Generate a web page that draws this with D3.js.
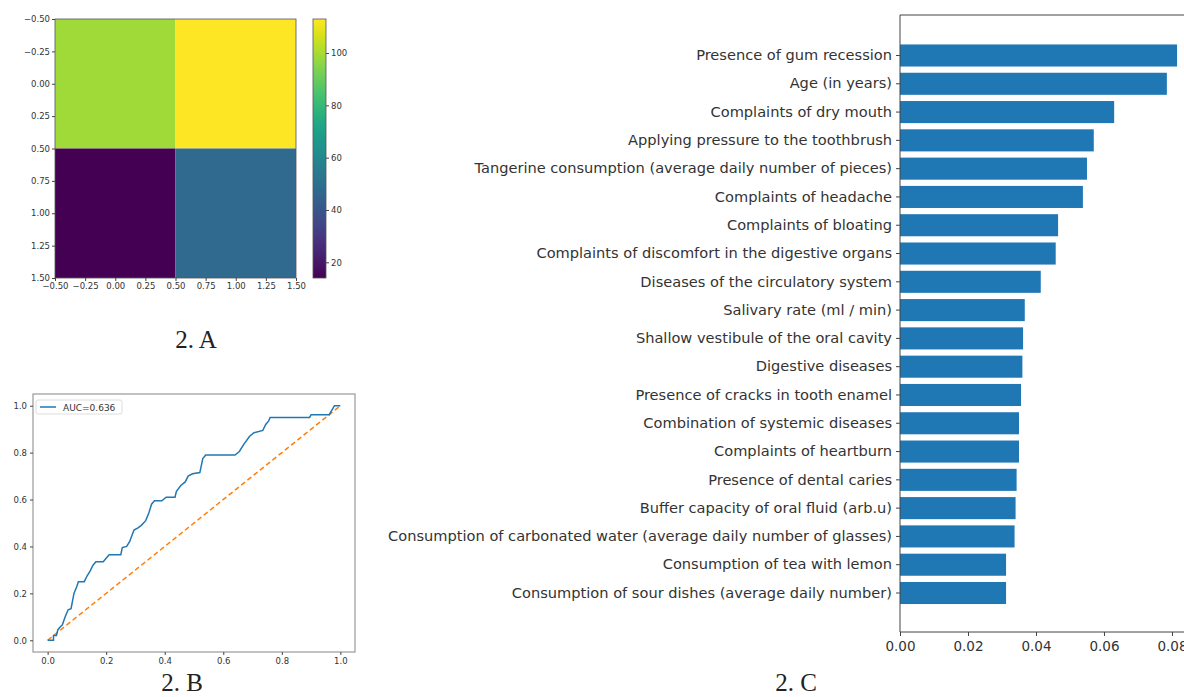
<!DOCTYPE html>
<html>
<head>
<meta charset="utf-8">
<script src="https://cdn.jsdelivr.net/npm/d3@7"></script>
<style>
  body { margin: 0; background: #fff; }
  svg { display: block; }
  text { font-family: "DejaVu Sans", sans-serif; fill: #333; }
  .caption { font-family: "Liberation Serif", "Times New Roman", serif; fill: #222; }
</style>
</head>
<body>
<div class="canvas"></div>
<script>
// Panel A - confusion matrix (rows, cols)
const matrixValues = [[99, 113], [14, 48]];
const matrixTicks = [-0.5, -0.25, 0, 0.25, 0.5, 0.75, 1, 1.25, 1.5];
const colorbarTicks = [20, 40, 60, 80, 100];

// Panel B - ROC curve
const rocFpr = [0, 0.02, 0.02, 0.03, 0.035, 0.045, 0.05, 0.06, 0.07, 0.08, 0.09, 0.1, 0.105, 0.125, 0.135, 0.145, 0.155, 0.165, 0.19, 0.2, 0.21, 0.25, 0.255, 0.27, 0.28, 0.295, 0.31, 0.32, 0.335, 0.345, 0.355, 0.365, 0.39, 0.405, 0.435, 0.44, 0.455, 0.47, 0.48, 0.495, 0.52, 0.53, 0.54, 0.64, 0.655, 0.67, 0.69, 0.705, 0.735, 0.745, 0.755, 0.76, 0.895, 0.9, 0.962, 0.975, 0.98, 1.0];
const rocTpr = [0, 0, 0.02, 0.02, 0.045, 0.06, 0.065, 0.1, 0.13, 0.135, 0.2, 0.23, 0.25, 0.25, 0.275, 0.295, 0.32, 0.335, 0.335, 0.35, 0.365, 0.365, 0.395, 0.4, 0.42, 0.47, 0.48, 0.49, 0.51, 0.54, 0.58, 0.595, 0.595, 0.61, 0.61, 0.635, 0.66, 0.675, 0.7, 0.71, 0.715, 0.775, 0.79, 0.79, 0.805, 0.835, 0.87, 0.885, 0.895, 0.92, 0.935, 0.95, 0.95, 0.962, 0.962, 0.99, 1.0, 1.0];
const rocLabel = 'AUC=0.636';
const rocTicks = [0, 0.2, 0.4, 0.6, 0.8, 1.0];

// Panel C - feature importance
const features = [
    'Presence of gum recession',
    'Age (in years)',
    'Complaints of dry mouth',
    'Applying pressure to the toothbrush',
    'Tangerine consumption (average daily number of pieces)',
    'Complaints of headache ',
    'Complaints of bloating',
    'Complaints of discomfort in the digestive organs',
    'Diseases of the circulatory system',
    'Salivary rate (ml / min)',
    'Shallow vestibule of the oral cavity',
    'Digestive diseases',
    'Presence of cracks in tooth enamel',
    'Combination of systemic diseases',
    'Complaints of heartburn',
    'Presence of dental caries',
    'Buffer capacity of oral fluid (arb.u)',
    'Consumption of carbonated water (average daily number of glasses)',
    'Consumption of tea with lemon',
    'Consumption of sour dishes (average daily number)'
];
const importance = [0.0815, 0.0785, 0.063, 0.057, 0.055, 0.0538, 0.0465, 0.0458, 0.0414, 0.0367, 0.0362, 0.036, 0.0356, 0.035, 0.035, 0.0343, 0.034, 0.0337, 0.0312, 0.0312];
const importanceTicks = [0, 0.02, 0.04, 0.06, 0.08];

const captions = ['2. A', '2. B', '2. C'];

const app = {
    dims: { width: 1184, height: 697 },
    svg: null,

    init: function() {
        app.svg = d3.select('.canvas')
            .append('svg')
            .attr('width', app.dims.width)
            .attr('height', app.dims.height);

        app.drawHeatmap();
        app.drawRoc();
        app.drawBars();
        app.drawCaptions();
    },

    styleAxis: function(g, size) {
        g.selectAll('.domain').remove();
        g.selectAll('line').attr('stroke', '#444');
        g.selectAll('text')
            .attr('fill', '#333')
            .style('font-size', size + 'px')
            .style('font-family', '"DejaVu Sans", sans-serif');
    },

    drawHeatmap: function() {
        const g = app.svg.append('g');
        const x = d3.scaleLinear().domain([-0.5, 1.5]).range([55, 296]);
        const y = d3.scaleLinear().domain([-0.5, 1.5]).range([19, 278]);
        const extent = d3.extent(matrixValues.flat());
        const color = d3.scaleSequential(d3.interpolateViridis).domain(extent);

        const cells = [];
        matrixValues.forEach((row, i) => row.forEach((v, j) => cells.push({ i, j, v })));

        g.selectAll('.cell')
            .data(cells)
            .enter()
            .append('rect')
            .attr('class', 'cell')
            .attr('x', d => x(d.j - 0.5))
            .attr('y', d => y(d.i - 0.5))
            .attr('width', d => x(d.j + 0.5) - x(d.j - 0.5))
            .attr('height', d => y(d.i + 0.5) - y(d.i - 0.5))
            .attr('fill', d => color(d.v));

        g.append('rect')
            .attr('x', x(-0.5)).attr('y', y(-0.5))
            .attr('width', x(1.5) - x(-0.5)).attr('height', y(1.5) - y(-0.5))
            .attr('fill', 'none').attr('stroke', '#555').attr('stroke-width', 0.8);

        const fmt = d3.format('.2f');
        const xAxis = g.append('g')
            .attr('transform', `translate(0, ${y(1.5)})`)
            .call(d3.axisBottom(x).tickValues(matrixTicks).tickFormat(fmt).tickSize(3).tickPadding(2));
        app.styleAxis(xAxis, 8.5);

        const yAxis = g.append('g')
            .attr('transform', `translate(${x(-0.5)}, 0)`)
            .call(d3.axisLeft(y).tickValues(matrixTicks).tickFormat(fmt).tickSize(3).tickPadding(2));
        app.styleAxis(yAxis, 8.5);

        // Colorbar
        const cb = d3.scaleLinear().domain(extent).range([278, 19]);
        const defs = app.svg.append('defs');
        const grad = defs.append('linearGradient')
            .attr('id', 'viridis')
            .attr('x1', 0).attr('y1', 1).attr('x2', 0).attr('y2', 0);
        d3.range(0, 1.001, 0.05).forEach(t => {
            grad.append('stop')
                .attr('offset', t)
                .attr('stop-color', d3.interpolateViridis(t));
        });
        g.append('rect')
            .attr('x', 313).attr('y', 19)
            .attr('width', 13).attr('height', 259)
            .attr('fill', 'url(#viridis)')
            .attr('stroke', '#555').attr('stroke-width', 0.8);

        const cbAxis = g.append('g')
            .attr('transform', 'translate(326, 0)')
            .call(d3.axisRight(cb).tickValues(colorbarTicks).tickSize(3).tickPadding(2));
        app.styleAxis(cbAxis, 8.5);
    },

    drawRoc: function() {
        const g = app.svg.append('g');
        const x = d3.scaleLinear().domain([-0.05, 1.05]).range([33, 355]);
        const y = d3.scaleLinear().domain([-0.05, 1.05]).range([652, 394]);

        g.append('rect')
            .attr('x', 33).attr('y', 394)
            .attr('width', 322).attr('height', 258)
            .attr('fill', '#fff').attr('stroke', '#999').attr('stroke-width', 1.2);

        const xAxis = g.append('g')
            .attr('transform', 'translate(0, 652)')
            .call(d3.axisBottom(x).tickValues(rocTicks).tickFormat(d3.format('.1f')).tickSize(3).tickPadding(3));
        app.styleAxis(xAxis, 8.5);

        const yAxis = g.append('g')
            .attr('transform', 'translate(33, 0)')
            .call(d3.axisLeft(y).tickValues(rocTicks).tickFormat(d3.format('.1f')).tickSize(3).tickPadding(3));
        app.styleAxis(yAxis, 8.5);

        const line = d3.line().x(d => x(d[0])).y(d => y(d[1]));

        g.append('path')
            .datum([[0, 0], [1, 1]])
            .attr('fill', 'none')
            .attr('stroke', '#ff7f0e')
            .attr('stroke-width', 1.5)
            .attr('stroke-dasharray', '5,3')
            .attr('d', line);

        g.append('path')
            .datum(rocFpr.map((f, i) => [f, rocTpr[i]]))
            .attr('fill', 'none')
            .attr('stroke', '#1f77b4')
            .attr('stroke-width', 1.5)
            .attr('d', line);

        // Legend
        const lg = g.append('g').attr('transform', 'translate(36, 400)');
        lg.append('rect')
            .attr('width', 86).attr('height', 14).attr('rx', 2)
            .attr('fill', '#fff').attr('stroke', '#ddd');
        lg.append('line')
            .attr('x1', 4).attr('x2', 20).attr('y1', 7).attr('y2', 7)
            .attr('stroke', '#1f77b4').attr('stroke-width', 1.5);
        lg.append('text')
            .attr('x', 27).attr('y', 10.5)
            .style('font-size', '9px')
            .text(rocLabel);
    },

    drawBars: function() {
        const g = app.svg.append('g');
        const x = d3.scaleLinear().domain([0, 0.0856]).range([900, 1191]);
        const y = d3.scaleBand()
            .domain(features)
            .range([55.5 - 28.3 * 0.5, 593 + 28.3 * 0.5])
            .paddingInner(0.22)
            .paddingOuter(0.11);
        const top = 15, bottom = 632;

        g.selectAll('.bar')
            .data(features)
            .enter()
            .append('rect')
            .attr('class', 'bar')
            .attr('x', x(0))
            .attr('y', d => y(d))
            .attr('width', (d, i) => x(importance[i]) - x(0))
            .attr('height', y.bandwidth())
            .attr('fill', '#1f77b4');

        // Frame
        g.append('path')
            .attr('d', `M${x(0.0856)},${top}H${x(0)}V${bottom}H${x(0.0856)}`)
            .attr('fill', 'none')
            .attr('stroke', '#444')
            .attr('stroke-width', 1);

        const yAxis = g.append('g')
            .attr('transform', `translate(${x(0)}, 0)`)
            .call(d3.axisLeft(y).tickSize(4).tickPadding(4));
        app.styleAxis(yAxis, 14.6);

        const xAxis = g.append('g')
            .attr('transform', `translate(0, ${bottom})`)
            .call(d3.axisBottom(x).tickValues(importanceTicks).tickFormat(d3.format('.2f')).tickSize(4).tickPadding(5));
        app.styleAxis(xAxis, 13.5);
    },

    drawCaptions: function() {
        const pos = [[196, 348], [182, 691], [796, 691]];
        app.svg.selectAll('.caption')
            .data(captions)
            .enter()
            .append('text')
            .attr('class', 'caption')
            .attr('x', (d, i) => pos[i][0])
            .attr('y', (d, i) => pos[i][1])
            .attr('text-anchor', 'middle')
            .style('font-size', '25px')
            .text(d => d);
    }
};

document.addEventListener('DOMContentLoaded', app.init);
</script>
</body>
</html>
